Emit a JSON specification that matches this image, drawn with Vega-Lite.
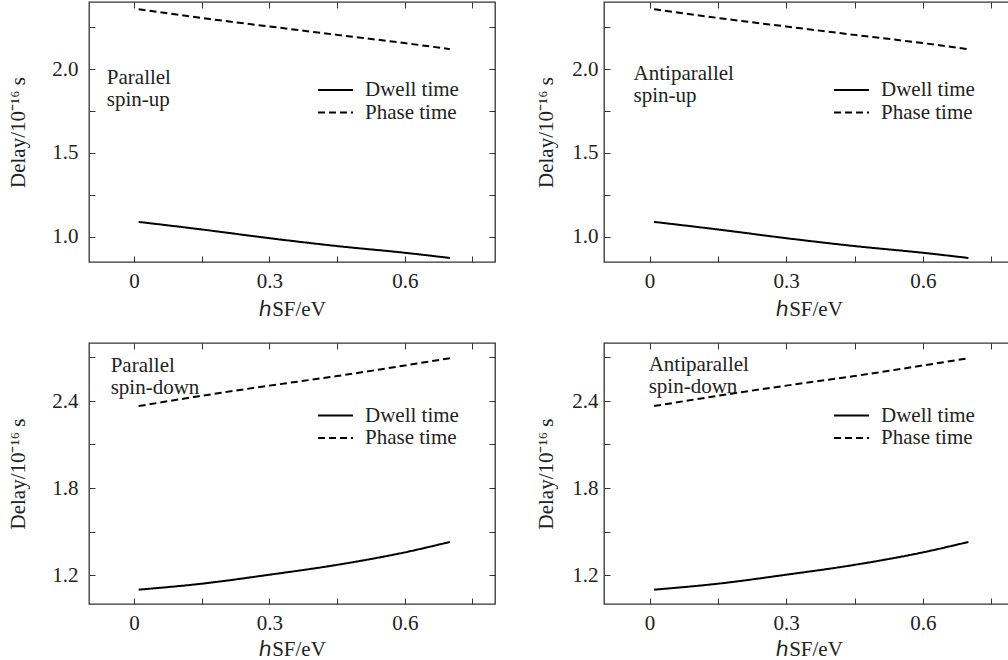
{
  "$schema": "https://vega.github.io/schema/vega-lite/v6.json",
  "padding": {"left": 6, "top": 0, "right": 0, "bottom": 0},
  "background": "white",
  "config": {
    "view": {"stroke": "#333", "strokeWidth": 1.3},
    "font": "Liberation Serif",
    "axis": {
      "labelFont": "Liberation Serif", "labelFontSize": 21, "labelColor": "#222",
      "titleFont": "Liberation Serif", "titleFontSize": 21, "titleFontWeight": "normal", "titleColor": "#222",
      "tickColor": "#333", "tickWidth": 1, "tickSize": -6, "domain": false, "grid": false, "labelOverlap": false, "labelFlush": false
    },
    "legend": {"labelFont": "Liberation Serif", "labelFontSize": 21, "labelColor": "#222",
      "symbolType": "M-1.75,0H1.75", "symbolSize": 400, "symbolStrokeWidth": 2, "symbolStrokeColor": "black", "labelOffset": 18.5, "rowPadding": 1.5, "labelLimit": 300}
  },
  "datasets": {
    "curves": [
      {"panel": "TL", "series": "Dwell time", "h": 0.01, "delay": 1.089},
      {"panel": "TL", "series": "Dwell time", "h": 0.15, "delay": 1.044},
      {"panel": "TL", "series": "Dwell time", "h": 0.3, "delay": 0.992},
      {"panel": "TL", "series": "Dwell time", "h": 0.45, "delay": 0.945},
      {"panel": "TL", "series": "Dwell time", "h": 0.6, "delay": 0.905},
      {"panel": "TL", "series": "Dwell time", "h": 0.7, "delay": 0.874},
      {"panel": "TL", "series": "Phase time", "h": 0.01, "delay": 2.357},
      {"panel": "TL", "series": "Phase time", "h": 0.15, "delay": 2.305},
      {"panel": "TL", "series": "Phase time", "h": 0.3, "delay": 2.254},
      {"panel": "TL", "series": "Phase time", "h": 0.45, "delay": 2.204},
      {"panel": "TL", "series": "Phase time", "h": 0.6, "delay": 2.155},
      {"panel": "TL", "series": "Phase time", "h": 0.7, "delay": 2.119},
      {"panel": "TR", "series": "Dwell time", "h": 0.01, "delay": 1.089},
      {"panel": "TR", "series": "Dwell time", "h": 0.15, "delay": 1.044},
      {"panel": "TR", "series": "Dwell time", "h": 0.3, "delay": 0.992},
      {"panel": "TR", "series": "Dwell time", "h": 0.45, "delay": 0.945},
      {"panel": "TR", "series": "Dwell time", "h": 0.6, "delay": 0.905},
      {"panel": "TR", "series": "Dwell time", "h": 0.7, "delay": 0.874},
      {"panel": "TR", "series": "Phase time", "h": 0.01, "delay": 2.357},
      {"panel": "TR", "series": "Phase time", "h": 0.15, "delay": 2.305},
      {"panel": "TR", "series": "Phase time", "h": 0.3, "delay": 2.254},
      {"panel": "TR", "series": "Phase time", "h": 0.45, "delay": 2.204},
      {"panel": "TR", "series": "Phase time", "h": 0.6, "delay": 2.155},
      {"panel": "TR", "series": "Phase time", "h": 0.7, "delay": 2.119},
      {"panel": "BL", "series": "Dwell time", "h": 0.01, "delay": 1.099},
      {"panel": "BL", "series": "Dwell time", "h": 0.15, "delay": 1.140},
      {"panel": "BL", "series": "Dwell time", "h": 0.3, "delay": 1.202},
      {"panel": "BL", "series": "Dwell time", "h": 0.45, "delay": 1.270},
      {"panel": "BL", "series": "Dwell time", "h": 0.6, "delay": 1.356},
      {"panel": "BL", "series": "Dwell time", "h": 0.7, "delay": 1.428},
      {"panel": "BL", "series": "Phase time", "h": 0.01, "delay": 2.365},
      {"panel": "BL", "series": "Phase time", "h": 0.15, "delay": 2.436},
      {"panel": "BL", "series": "Phase time", "h": 0.3, "delay": 2.506},
      {"panel": "BL", "series": "Phase time", "h": 0.45, "delay": 2.572},
      {"panel": "BL", "series": "Phase time", "h": 0.6, "delay": 2.645},
      {"panel": "BL", "series": "Phase time", "h": 0.7, "delay": 2.695},
      {"panel": "BR", "series": "Dwell time", "h": 0.01, "delay": 1.099},
      {"panel": "BR", "series": "Dwell time", "h": 0.15, "delay": 1.140},
      {"panel": "BR", "series": "Dwell time", "h": 0.3, "delay": 1.202},
      {"panel": "BR", "series": "Dwell time", "h": 0.45, "delay": 1.270},
      {"panel": "BR", "series": "Dwell time", "h": 0.6, "delay": 1.356},
      {"panel": "BR", "series": "Dwell time", "h": 0.7, "delay": 1.428},
      {"panel": "BR", "series": "Phase time", "h": 0.01, "delay": 2.365},
      {"panel": "BR", "series": "Phase time", "h": 0.15, "delay": 2.436},
      {"panel": "BR", "series": "Phase time", "h": 0.3, "delay": 2.506},
      {"panel": "BR", "series": "Phase time", "h": 0.45, "delay": 2.572},
      {"panel": "BR", "series": "Phase time", "h": 0.6, "delay": 2.645},
      {"panel": "BR", "series": "Phase time", "h": 0.7, "delay": 2.695}
    ],
    "notes": [
      {"panel": "TL", "h": -0.0605, "delay": 1.911, "label": "Parallel\nspin-up"},
      {"panel": "TR", "h": -0.035, "delay": 1.936, "label": "Antiparallel\nspin-up"},
      {"panel": "BL", "h": -0.052, "delay": 2.602, "label": "Parallel\nspin-down"},
      {"panel": "BR", "h": -0.002, "delay": 2.61, "label": "Antiparallel\nspin-down"}
    ]
  },
  "resolve": {"scale": {"strokeDash": "independent"}, "legend": {"strokeDash": "independent"}},
  "spacing": 21,
  "vconcat": [
    {
      "spacing": 37,
      "resolve": {"scale": {"strokeDash": "independent"}, "legend": {"strokeDash": "independent"}},
      "hconcat": [
        {
          "width": 406, "height": 260,
          "resolve": {"axis": {"x": "independent", "y": "independent"}},
          "layer": [
            {
              "data": {"name": "curves"},
              "transform": [{"filter": "datum.panel == 'TL'"}],
              "mark": {"type": "line", "color": "black", "strokeWidth": 2, "interpolate": "monotone"},
              "encoding": {
                "x": {"field": "h", "type": "quantitative", "scale": {"domain": [-0.1, 0.8], "nice": false, "zero": false},
                  "axis": {"orient": "bottom", "values": [0, 0.15, 0.3, 0.45, 0.6, 0.75], "labelExpr": "abs(datum.value/0.3 - round(datum.value/0.3)) < 0.01 ? format(datum.value, '~g') : ''", "labelPadding": 14, "minExtent": 30, "maxExtent": 30, "title": "ℎSF/eV", "titlePadding": 6}},
                "y": {"field": "delay", "type": "quantitative", "scale": {"domain": [0.85, 2.4], "nice": false, "zero": false},
                  "axis": {"orient": "left", "values": [1, 1.25, 1.5, 1.75, 2, 2.25], "labelExpr": "abs(datum.value*2 - round(datum.value*2)) < 0.01 ? format(datum.value, '.1f') : ''", "labelPadding": 17, "minExtent": 40, "maxExtent": 40, "title": "Delay/10⁻¹⁶ s", "titlePadding": 21}},
                "strokeDash": {"field": "series", "type": "nominal", "scale": {"domain": ["Dwell time", "Phase time"], "range": [[1, 0], [7, 4]]},
                  "legend": {"title": null, "orient": "none", "legendX": 235.5, "legendY": 77}}
              }
            },
            {
              "data": {"name": "notes"},
              "transform": [{"filter": "datum.panel == 'TL'"}],
              "mark": {"type": "text", "align": "left", "baseline": "alphabetic", "lineBreak": "\n", "lineHeight": 22, "font": "Liberation Serif", "fontSize": 21, "color": "#222"},
              "encoding": {
                "x": {"field": "h", "type": "quantitative", "scale": {"domain": [-0.1, 0.8], "nice": false, "zero": false},
                  "axis": {"orient": "top", "values": [0, 0.15, 0.3, 0.45, 0.6, 0.75], "labels": false, "title": null}},
                "y": {"field": "delay", "type": "quantitative", "scale": {"domain": [0.85, 2.4], "nice": false, "zero": false},
                  "axis": {"orient": "right", "values": [1, 1.25, 1.5, 1.75, 2, 2.25], "labels": false, "title": null}},
                "text": {"field": "label", "type": "nominal"}
              }
            }
          ]
        },
        {
          "width": 410, "height": 260,
          "resolve": {"axis": {"x": "independent", "y": "independent"}},
          "layer": [
            {
              "data": {"name": "curves"},
              "transform": [{"filter": "datum.panel == 'TR'"}],
              "mark": {"type": "line", "color": "black", "strokeWidth": 2, "interpolate": "monotone"},
              "encoding": {
                "x": {"field": "h", "type": "quantitative", "scale": {"domain": [-0.1, 0.8], "nice": false, "zero": false},
                  "axis": {"orient": "bottom", "values": [0, 0.15, 0.3, 0.45, 0.6, 0.75], "labelExpr": "abs(datum.value/0.3 - round(datum.value/0.3)) < 0.01 ? format(datum.value, '~g') : ''", "labelPadding": 14, "minExtent": 30, "maxExtent": 30, "title": "ℎSF/eV", "titlePadding": 6}},
                "y": {"field": "delay", "type": "quantitative", "scale": {"domain": [0.85, 2.4], "nice": false, "zero": false},
                  "axis": {"orient": "left", "values": [1, 1.25, 1.5, 1.75, 2, 2.25], "labelExpr": "abs(datum.value*2 - round(datum.value*2)) < 0.01 ? format(datum.value, '.1f') : ''", "labelPadding": 12, "minExtent": 35, "maxExtent": 35, "title": "Delay/10⁻¹⁶ s", "titlePadding": 13}},
                "strokeDash": {"field": "series", "type": "nominal", "scale": {"domain": ["Dwell time", "Phase time"], "range": [[1, 0], [7, 4]]},
                  "legend": {"title": null, "orient": "none", "legendX": 236.5, "legendY": 77}}
              }
            },
            {
              "data": {"name": "notes"},
              "transform": [{"filter": "datum.panel == 'TR'"}],
              "mark": {"type": "text", "align": "left", "baseline": "alphabetic", "lineBreak": "\n", "lineHeight": 22, "font": "Liberation Serif", "fontSize": 21, "color": "#222"},
              "encoding": {
                "x": {"field": "h", "type": "quantitative", "scale": {"domain": [-0.1, 0.8], "nice": false, "zero": false},
                  "axis": {"orient": "top", "values": [0, 0.15, 0.3, 0.45, 0.6, 0.75], "labels": false, "title": null}},
                "y": {"field": "delay", "type": "quantitative", "scale": {"domain": [0.85, 2.4], "nice": false, "zero": false},
                  "axis": {"orient": "right", "values": [1, 1.25, 1.5, 1.75, 2, 2.25], "labels": false, "title": null}},
                "text": {"field": "label", "type": "nominal"}
              }
            }
          ]
        }
      ]
    },
    {
      "spacing": 37,
      "resolve": {"scale": {"strokeDash": "independent"}, "legend": {"strokeDash": "independent"}},
      "hconcat": [
        {
          "width": 406, "height": 261,
          "resolve": {"axis": {"x": "independent", "y": "independent"}},
          "layer": [
            {
              "data": {"name": "curves"},
              "transform": [{"filter": "datum.panel == 'BL'"}],
              "mark": {"type": "line", "color": "black", "strokeWidth": 2, "interpolate": "monotone"},
              "encoding": {
                "x": {"field": "h", "type": "quantitative", "scale": {"domain": [-0.1, 0.8], "nice": false, "zero": false},
                  "axis": {"orient": "bottom", "values": [0, 0.15, 0.3, 0.45, 0.6, 0.75], "labelExpr": "abs(datum.value/0.3 - round(datum.value/0.3)) < 0.01 ? format(datum.value, '~g') : ''", "labelPadding": 14, "minExtent": 30, "maxExtent": 30, "title": "ℎSF/eV", "titlePadding": 4}},
                "y": {"field": "delay", "type": "quantitative", "scale": {"domain": [1.0, 2.8], "nice": false, "zero": false},
                  "axis": {"orient": "left", "values": [1.2, 1.5, 1.8, 2.1, 2.4, 2.7], "labelExpr": "abs((datum.value-1.2)/0.6 - round((datum.value-1.2)/0.6)) < 0.01 ? format(datum.value, '.1f') : ''", "labelPadding": 17, "minExtent": 40, "maxExtent": 40, "title": "Delay/10⁻¹⁶ s", "titlePadding": 21}},
                "strokeDash": {"field": "series", "type": "nominal", "scale": {"domain": ["Dwell time", "Phase time"], "range": [[1, 0], [7, 4]]},
                  "legend": {"title": null, "orient": "none", "legendX": 235.5, "legendY": 61.5}}
              }
            },
            {
              "data": {"name": "notes"},
              "transform": [{"filter": "datum.panel == 'BL'"}],
              "mark": {"type": "text", "align": "left", "baseline": "alphabetic", "lineBreak": "\n", "lineHeight": 22, "font": "Liberation Serif", "fontSize": 21, "color": "#222"},
              "encoding": {
                "x": {"field": "h", "type": "quantitative", "scale": {"domain": [-0.1, 0.8], "nice": false, "zero": false},
                  "axis": {"orient": "top", "values": [0, 0.15, 0.3, 0.45, 0.6, 0.75], "labels": false, "title": null}},
                "y": {"field": "delay", "type": "quantitative", "scale": {"domain": [1.0, 2.8], "nice": false, "zero": false},
                  "axis": {"orient": "right", "values": [1.2, 1.5, 1.8, 2.1, 2.4, 2.7], "labels": false, "title": null}},
                "text": {"field": "label", "type": "nominal"}
              }
            }
          ]
        },
        {
          "width": 410, "height": 261,
          "resolve": {"axis": {"x": "independent", "y": "independent"}},
          "layer": [
            {
              "data": {"name": "curves"},
              "transform": [{"filter": "datum.panel == 'BR'"}],
              "mark": {"type": "line", "color": "black", "strokeWidth": 2, "interpolate": "monotone"},
              "encoding": {
                "x": {"field": "h", "type": "quantitative", "scale": {"domain": [-0.1, 0.8], "nice": false, "zero": false},
                  "axis": {"orient": "bottom", "values": [0, 0.15, 0.3, 0.45, 0.6, 0.75], "labelExpr": "abs(datum.value/0.3 - round(datum.value/0.3)) < 0.01 ? format(datum.value, '~g') : ''", "labelPadding": 14, "minExtent": 30, "maxExtent": 30, "title": "ℎSF/eV", "titlePadding": 4}},
                "y": {"field": "delay", "type": "quantitative", "scale": {"domain": [1.0, 2.8], "nice": false, "zero": false},
                  "axis": {"orient": "left", "values": [1.2, 1.5, 1.8, 2.1, 2.4, 2.7], "labelExpr": "abs((datum.value-1.2)/0.6 - round((datum.value-1.2)/0.6)) < 0.01 ? format(datum.value, '.1f') : ''", "labelPadding": 12, "minExtent": 35, "maxExtent": 35, "title": "Delay/10⁻¹⁶ s", "titlePadding": 13}},
                "strokeDash": {"field": "series", "type": "nominal", "scale": {"domain": ["Dwell time", "Phase time"], "range": [[1, 0], [7, 4]]},
                  "legend": {"title": null, "orient": "none", "legendX": 236.5, "legendY": 61.5}}
              }
            },
            {
              "data": {"name": "notes"},
              "transform": [{"filter": "datum.panel == 'BR'"}],
              "mark": {"type": "text", "align": "left", "baseline": "alphabetic", "lineBreak": "\n", "lineHeight": 22, "font": "Liberation Serif", "fontSize": 21, "color": "#222"},
              "encoding": {
                "x": {"field": "h", "type": "quantitative", "scale": {"domain": [-0.1, 0.8], "nice": false, "zero": false},
                  "axis": {"orient": "top", "values": [0, 0.15, 0.3, 0.45, 0.6, 0.75], "labels": false, "title": null}},
                "y": {"field": "delay", "type": "quantitative", "scale": {"domain": [1.0, 2.8], "nice": false, "zero": false},
                  "axis": {"orient": "right", "values": [1.2, 1.5, 1.8, 2.1, 2.4, 2.7], "labels": false, "title": null}},
                "text": {"field": "label", "type": "nominal"}
              }
            }
          ]
        }
      ]
    }
  ]
}
